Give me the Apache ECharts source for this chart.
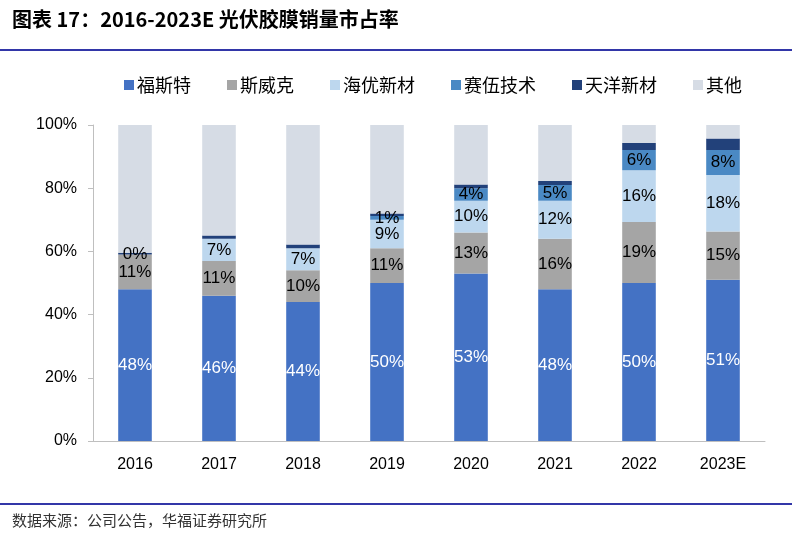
<!DOCTYPE html>
<html>
<head>
<meta charset="utf-8">
<script src="https://cdn.jsdelivr.net/npm/echarts@6/dist/echarts.min.js"></script>
<style>html,body{margin:0;padding:0;background:#fff}#c{width:800px;height:550px}</style>
</head>
<body>
<div id="c"></div>
<script>
var categories = ['2016','2017','2018','2019','2020','2021','2022','2023E'];
var seriesNames = ['福斯特','斯威克','海优新材','赛伍技术','天洋新材','其他'];
var fosite   = [48, 46, 44, 50, 53, 48, 50, 51];
var siweike  = [11, 11, 10, 11, 13, 16, 19.3, 15.3];
var haiyou   = [0, 7, 7, 9, 10, 12, 16.4, 17.9];
var saiwu    = [null, null, null, 1.2, 4, 5, 6.4, 7.9];
var tianyang = [0.6, 1, 1.2, 0.8, 1.2, 1.3, 2.2, 3.6];
var others   = [40.4, 35, 37.8, 28, 18.8, 17.7, 5.7, 4.3];
var yTicks = [0, 20, 40, 60, 80, 100];

var colors = ['#4472C4','#A5A5A5','#BDD7EE','#4A89C4','#22417A','#D6DCE5'];
var dataArr = [fosite, siweike, haiyou, saiwu, tianyang, others];
var labelShow = [true, true, true, true, false, false];
var labelColor = ['#ffffff','#000000','#000000','#000000','#000000','#000000'];
var FONT = '"Liberation Sans", Arial, "Noto Sans CJK SC", sans-serif';

var series = seriesNames.map(function(n, i){
  return {
    name: n, type: 'bar', stack: 'total', barWidth: '40%',
    data: dataArr[i],
    itemStyle: {color: colors[i]},
    label: {
      show: labelShow[i], position: 'inside', color: labelColor[i],
      fontSize: 17, fontFamily: FONT,
      formatter: function(p){ return (p.value === null || p.value === undefined) ? '' : Math.round(p.value) + '%'; }
    },
    emphasis: {disabled: true}
  };
});

var chart = echarts.init(document.getElementById('c'), null, {renderer: 'canvas'});
chart.setOption({
  animation: false,
  backgroundColor: '#ffffff',
  legend: {
    top: 71, left: 119,
    itemWidth: 10, itemHeight: 10, itemGap: 36,
    icon: 'rect',
    textStyle: {fontSize: 18, color: '#000', fontFamily: '"Noto Sans CJK SC", sans-serif', padding: [0,0,0,-2]},
    data: seriesNames
  },
  grid: {left: 93, right: 35, top: 125, bottom: 109, containLabel: false},
  xAxis: {
    type: 'category', data: categories,
    axisLine: {lineStyle: {color: '#BFBFBF', width: 1}},
    axisTick: {show: false},
    axisLabel: {fontSize: 16, color: '#000', margin: 16, fontFamily: FONT}
  },
  yAxis: {
    type: 'value', min: yTicks[0], max: yTicks[yTicks.length-1], interval: 20,
    axisLine: {show: true, lineStyle: {color: '#BFBFBF', width: 1}},
    axisTick: {show: true, length: 5, lineStyle: {color: '#BFBFBF'}},
    splitLine: {show: false},
    axisLabel: {fontSize: 16, color: '#000', margin: 16, fontFamily: FONT, formatter: '{value}%'}
  },
  graphic: [
    {type: 'text', left: 12, top: 9, style: {text: '图表 17：2016-2023E 光伏胶膜销量市占率', fontSize: 20, fontWeight: 'bold', fill: '#000', fontFamily: '"Noto Sans CJK SC", sans-serif'}},
    {type: 'rect', shape: {x: 0, y: 49, width: 792, height: 2}, style: {fill: '#3236A8'}},
    {type: 'rect', shape: {x: 0, y: 503, width: 792, height: 2}, style: {fill: '#3236A8'}},
    {type: 'text', left: 12, top: 513, style: {text: '数据来源：公司公告，华福证券研究所', fontSize: 15, fill: '#333', fontFamily: '"Noto Sans CJK SC", sans-serif'}}
  ],
  series: series
});
</script>
</body>
</html>
